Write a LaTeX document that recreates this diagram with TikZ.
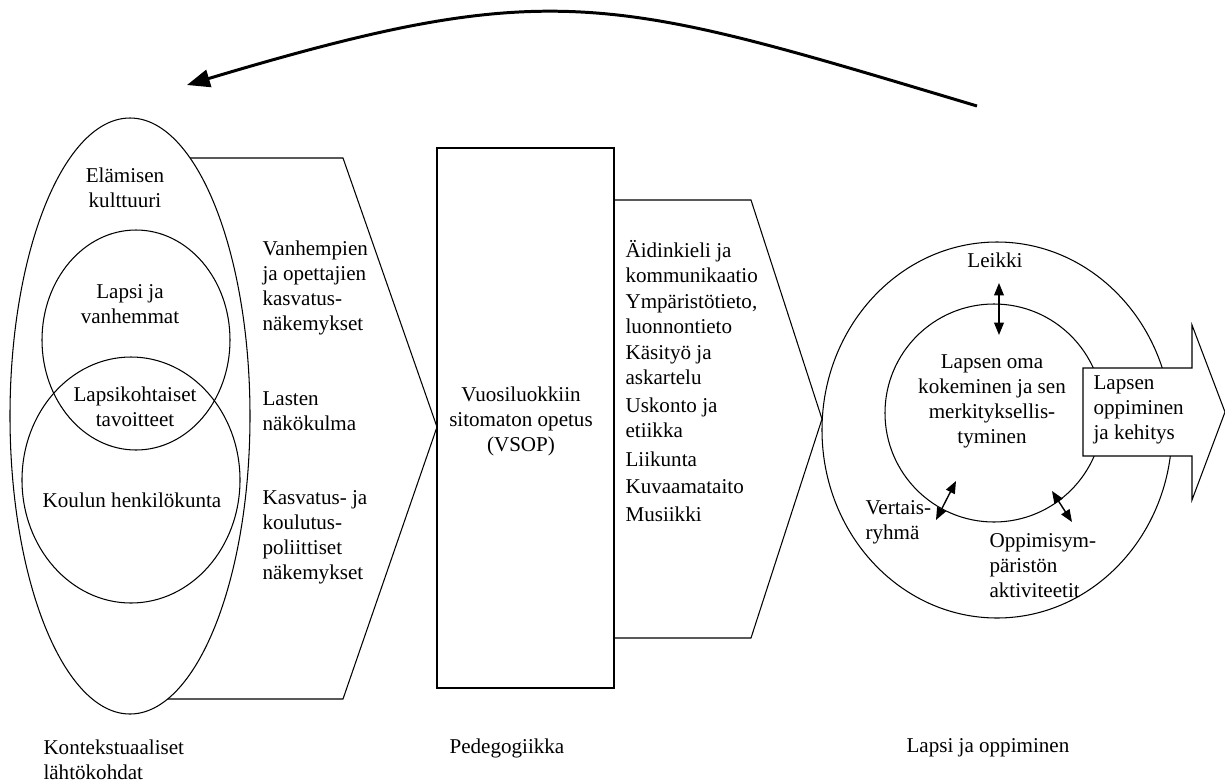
\documentclass[tikz,border=0pt]{standalone}
\usepackage{fontspec}
\setmainfont{Liberation Serif}
\usetikzlibrary{arrows.meta}

\begin{document}
\begin{tikzpicture}[x=0.02cm, y=-0.02cm, line width=0.6pt,
    txt/.style={font=\fontsize{12}{14.2}\selectfont, inner sep=0pt, align=left, anchor=west},
    ctxt/.style={font=\fontsize{12}{14.2}\selectfont, inner sep=0pt, align=center},
    dblarrow/.style={{Triangle[length=7pt,width=5.5pt]}-{Triangle[length=7pt,width=5.5pt]}, line width=0.8pt}]
    \useasboundingbox[fill=white] (0,0) rectangle (1225,782);

    % left block: chevron behind the big ellipse
    \draw[fill=white] (130,158) -- (343,158) -- (437,427) -- (343,699) -- (130,699) -- cycle;
    \draw[fill=white] (130,416) ellipse (120 and 298);
    \draw (136,340) ellipse (94 and 110);
    \draw (131,480) ellipse (109 and 123);

    % middle block
    \draw (614,200) -- (751,200) -- (822,419) -- (751,638) -- (614,638);
    \draw[fill=white] (437,148) rectangle (614,688);

    % right block
    \draw (997,430) ellipse (175 and 188);
    \draw (994,413) circle (109);
    \draw[fill=white] (1083,368) -- (1192,368) -- (1192,325) -- (1225,412)
      -- (1192,500) -- (1192,456) -- (1083,456) -- cycle;

    \coordinate (leikkiA) at (999,283);
    \coordinate (leikkiB) at (999,335);
    \coordinate (vertaisA) at (936,520);
    \coordinate (vertaisB) at (956,481);
    \coordinate (ymparistoA) at (1052,491);
    \coordinate (ymparistoB) at (1072,522);
    \draw[dblarrow] (leikkiA) -- (leikkiB);
    \draw[dblarrow] (vertaisA) -- (vertaisB);
    \draw[dblarrow] (ymparistoA) -- (ymparistoB);

    % texts
    \node[ctxt] (elamisen) at (125,188) {Elämisen\\kulttuuri};
    \node[ctxt] (vanhemmat) at (130,304) {Lapsi ja\\vanhemmat};
    \node[ctxt] (tavoitteet) at (135,407) {Lapsikohtaiset\\tavoitteet};
    \node[ctxt] (henkilokunta) at (132,500) {Koulun henkilökunta};

    \node[txt] (nakemykset) at (262,288) {Vanhempien\\ja opettajien\\kasvatus-\\näkemykset};
    \node[txt] (nakokulma) at (262,411) {Lasten\\näkökulma};
    \node[txt] (poliittiset) at (262,537) {Kasvatus- ja\\koulutus-\\poliittiset\\näkemykset};

    \node[ctxt] (vsop) at (521,421) {Vuosiluokkiin\\sitomaton opetus\\(VSOP)};

    \node[txt] (aidinkieli) at (625,262) {Äidinkieli ja\\kommunikaatio};
    \node[txt] (ymparisto) at (625,314) {Ympäristötieto,\\luonnontieto};
    \node[txt] (kasityo) at (625,365) {Käsityö ja\\askartelu};
    \node[txt] (uskonto) at (625,418) {Uskonto ja\\etiikka};
    \node[txt] (liikunta) at (625,459) {Liikunta};
    \node[txt] (kuvaamataito) at (625,487) {Kuvaamataito};
    \node[txt] (musiikki) at (625,514) {Musiikki};

    \node[ctxt] (leikki) at (995,260) {Leikki};
    \node[ctxt] (kokeminen) at (992,401) {Lapsen oma\\kokeminen ja sen\\merkityksellis-\\tyminen};
    \node[txt] (kehitys) at (1093,410) {Lapsen\\oppiminen\\ja kehitys};
    \node[txt] (vertais) at (865,522) {Vertais-\\ryhmä};
    \node[txt] (aktiviteetit) at (989,566) {Oppimisym-\\päristön\\aktiviteetit};

    \node[txt] (konteksti) at (43,760) {Kontekstuaaliset\\lähtökohdat};
    \node[txt] (pedagogiikka) at (449,748) {Pedegogiikka};
    \node[txt] (oppiminen) at (906,748) {Lapsi ja oppiminen};

    % feedback arc over the top
    \coordinate (arcS) at (977,106);
    \coordinate (arcE) at (187,85);
    \draw[line width=1.7pt, -{Triangle[length=13pt,width=10pt]}]
      (arcS) .. controls (610,-4) and (554,-25) .. (arcE);
\end{tikzpicture}
\end{document}
